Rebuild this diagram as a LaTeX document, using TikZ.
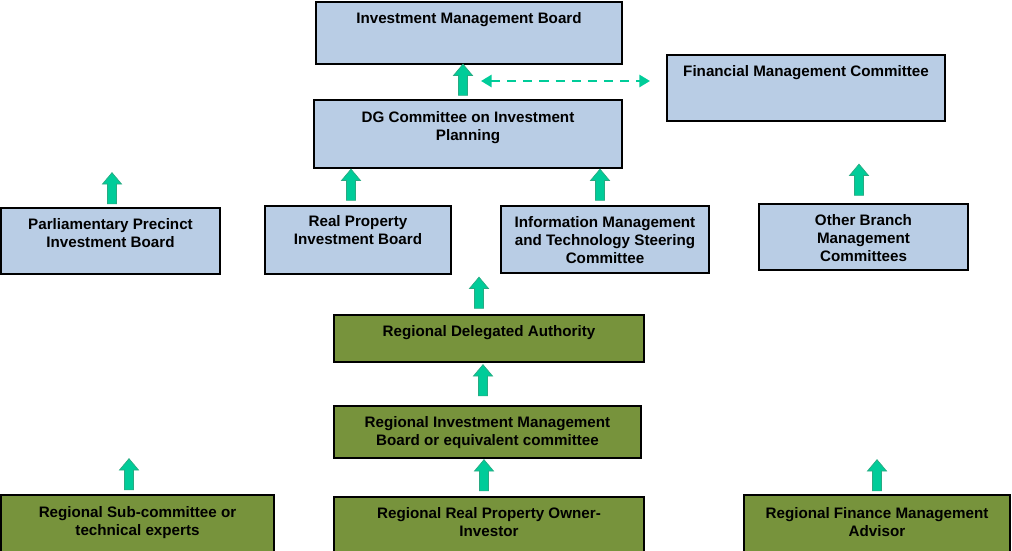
\documentclass[tikz,border=0pt]{standalone}
\usepackage{fontspec}
\setmainfont{Liberation Sans}
\usetikzlibrary{positioning, shapes.arrows, arrows.meta}
\definecolor{boxblue}{RGB}{185,205,229}
\definecolor{boxgreen}{RGB}{119,147,60}
\definecolor{arrowgreen}{RGB}{0,204,153}
\definecolor{arrowedge}{RGB}{40,170,130}
\tikzset{
  bluebox/.style={draw=black, fill=boxblue, line width=0.8pt, inner sep=0pt},
  greenbox/.style={draw=black, fill=boxgreen, line width=0.8pt, inner sep=0pt},
  boxtext/.style={inner sep=0pt, align=center, font=\fontsize{10.8}{12.8}\selectfont\bfseries},
  uparrow/.style={single arrow, shape border rotate=90, fill=arrowgreen, draw=arrowedge,
    line width=0.5pt, inner sep=0.105cm, single arrow head extend=0.125cm,
    single arrow tip angle=80, minimum height=0.78cm},
  dasharrow/.style={arrowgreen, line width=1.8pt, dash pattern=on 6.5pt off 5pt,
    {Triangle[length=7.5pt,width=8.5pt]}-{Triangle[length=7.5pt,width=8.5pt]}}
}
\begin{document}
\begin{tikzpicture}[x=0.025cm, y=-0.025cm]
\useasboundingbox (0,0) rectangle (1012,551);
% top level boards
\node[bluebox, minimum width=7.65cm, minimum height=1.55cm] (imb) at (469,33) {};
\node[boxtext, below=0.28cm of imb.north] (imbtext) {Investment Management Board};
\node[bluebox, minimum width=6.95cm, minimum height=1.65cm] (fmc) at (806,88) {};
\node[boxtext, below=0.26cm of fmc.north] (fmctext) {Financial Management Committee};
\node[bluebox, minimum width=7.7cm, minimum height=1.7cm] (dg) at (468,134) {};
\node[boxtext, below=0.29cm of dg.north] (dgtext) {DG Committee on Investment\\Planning};
% second row
\node[bluebox, minimum width=5.475cm, minimum height=1.65cm] (ppib) at (110.5,241) {};
\node[boxtext, below=0.28cm of ppib.north] (ppibtext) {Parliamentary Precinct\\Investment Board};
\node[bluebox, minimum width=4.65cm, minimum height=1.7cm] (rpib) at (358,240) {};
\node[boxtext, below=0.24cm of rpib.north] (rpibtext) {Real Property\\Investment Board};
\node[bluebox, minimum width=5.2cm, minimum height=1.675cm] (imtsc) at (605,239.5) {};
\node[boxtext, below=0.28cm of imtsc.north] (imtsctext) {Information Management\\and Technology Steering\\Committee};
\node[bluebox, minimum width=5.225cm, minimum height=1.65cm] (obmc) at (863.5,237) {};
\node[boxtext, below=0.26cm of obmc.north] (obmctext) {Other Branch\\Management\\Committees};
% regional level
\node[greenbox, minimum width=7.75cm, minimum height=1.175cm] (rda) at (489,338.5) {};
\node[boxtext, below=0.28cm of rda.north] (rdatext) {Regional Delegated Authority};
\node[greenbox, minimum width=7.675cm, minimum height=1.3cm] (rimb) at (487.5,432) {};
\node[boxtext, below=0.26cm of rimb.north] (rimbtext) {Regional Investment Management\\Board or equivalent committee};
\node[greenbox, minimum width=6.825cm, minimum height=1.45cm] (rsc) at (137.5,524) {};
\node[boxtext, below=0.3cm of rsc.north] (rsctext) {Regional Sub-committee or\\technical experts};
\node[greenbox, minimum width=7.75cm, minimum height=1.4cm] (rrpoi) at (489,525) {};
\node[boxtext, below=0.28cm of rrpoi.north] (rrpoitext) {Regional Real Property Owner-\\Investor};
\node[greenbox, minimum width=6.65cm, minimum height=1.45cm] (rfma) at (877,524) {};
\node[boxtext, below=0.32cm of rfma.north] (rfmatext) {Regional Finance Management\\Advisor};
% block arrows
\node[uparrow] (updg) at (463,82.5) {};
\node[uparrow] (upppib) at (112,191) {};
\node[uparrow] (uprpib) at (351,187.5) {};
\node[uparrow] (upimtsc) at (600,187.5) {};
\node[uparrow] (upobmc) at (859,182.5) {};
\node[uparrow] (uprda) at (479,295.5) {};
\node[uparrow] (uprimb) at (483,383) {};
\node[uparrow] (uprsc) at (129,477) {};
\node[uparrow] (uprrpoi) at (484,478) {};
\node[uparrow] (uprfma) at (877,478) {};
% link to finance committee
\coordinate (dashl) at (481,81);
\coordinate (dashr) at (650,81);
\draw[dasharrow] (dashl) -- (dashr);
\end{tikzpicture}
\end{document}
